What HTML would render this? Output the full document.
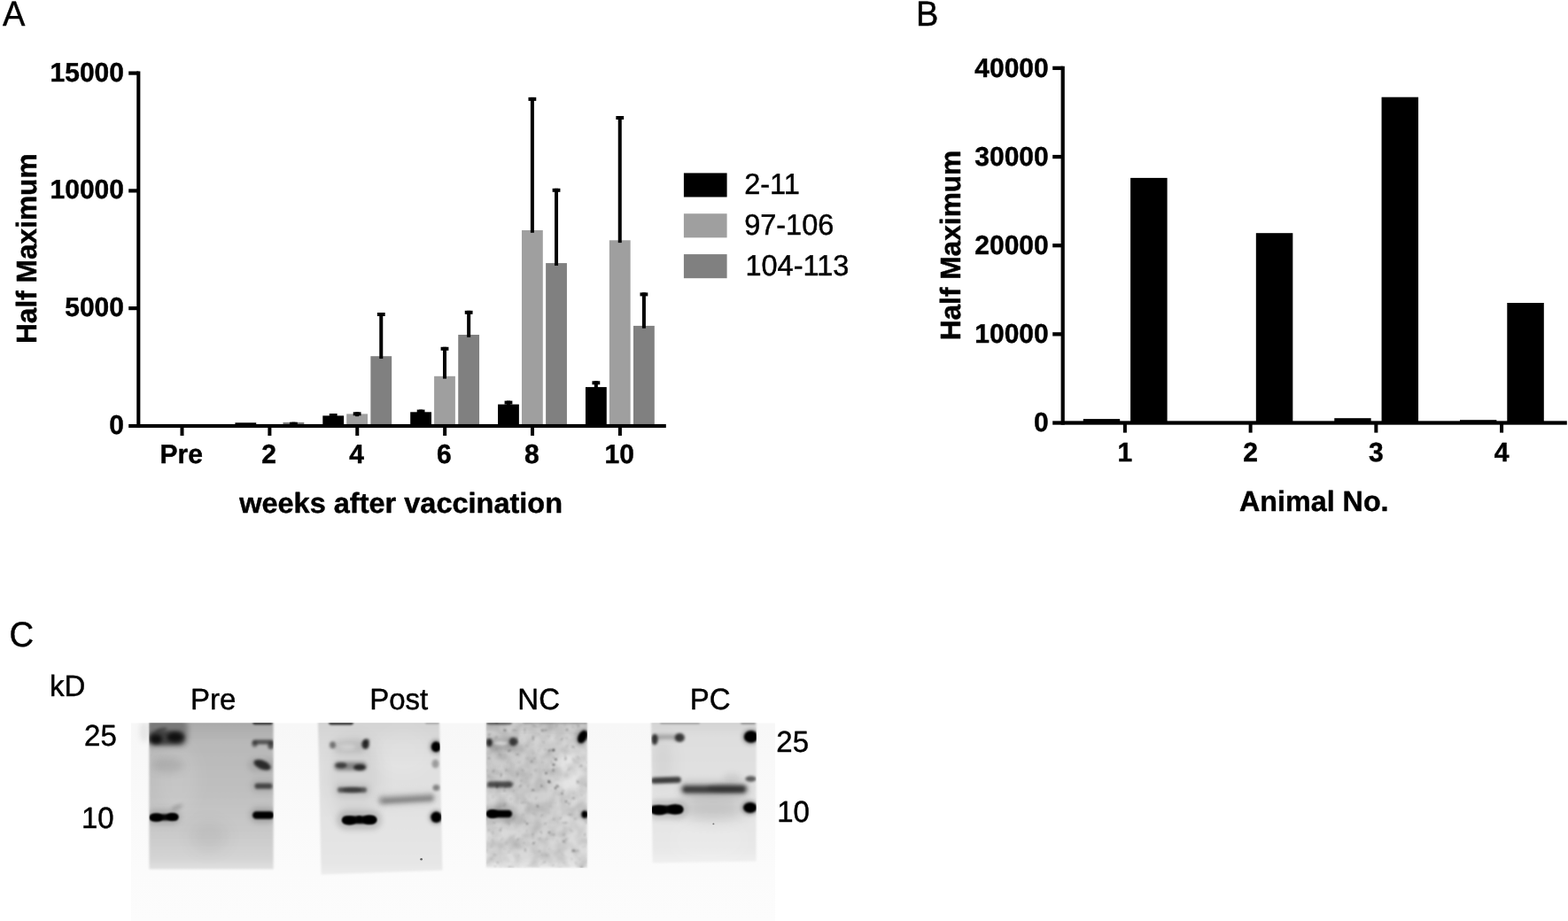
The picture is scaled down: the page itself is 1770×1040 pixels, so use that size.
<!DOCTYPE html>
<html lang="en">
<head>
<meta charset="utf-8">
<title>Figure</title>
<style>
html,body{margin:0;padding:0;background:#fff;}
body{width:1770px;height:1040px;overflow:hidden;}
svg{display:block;}
text{font-family:"Liberation Sans",sans-serif;fill:#000;text-rendering:geometricPrecision;stroke:#000;stroke-width:0.45px;stroke-linejoin:round;}
</style>
</head>
<body>
<svg width="1770" height="1040" viewBox="0 0 1770 1040">
<rect x="0" y="0" width="1770" height="1040" fill="#ffffff"/>
<g id="panelA">
<text transform="translate(2.90,28.90) scale(0.9750,1.0200)" font-size="39">A</text>
<rect x="265.43" y="477.30" width="23.80" height="3.70" fill="#000"/>
<rect x="319.48" y="476.90" width="23.80" height="4.10" fill="#808080"/>
<rect x="364.31" y="469.40" width="23.80" height="11.60" fill="#000"/>
<rect x="391.21" y="467.40" width="23.80" height="13.60" fill="#9f9f9f"/>
<rect x="418.36" y="402.20" width="23.80" height="78.80" fill="#808080"/>
<rect x="463.19" y="465.30" width="23.80" height="15.70" fill="#000"/>
<rect x="490.09" y="424.80" width="23.80" height="56.20" fill="#9f9f9f"/>
<rect x="517.24" y="378.00" width="23.80" height="103.00" fill="#808080"/>
<rect x="562.07" y="456.60" width="23.80" height="24.40" fill="#000"/>
<rect x="588.97" y="260.00" width="23.80" height="221.00" fill="#9f9f9f"/>
<rect x="616.12" y="297.10" width="23.80" height="183.90" fill="#808080"/>
<rect x="660.95" y="437.10" width="23.80" height="43.90" fill="#000"/>
<rect x="687.85" y="271.30" width="23.80" height="209.70" fill="#9f9f9f"/>
<rect x="715.00" y="367.90" width="23.80" height="113.10" fill="#808080"/>
<rect x="329.38" y="476.70" width="4.00" height="3.00" fill="#000"/>
<rect x="326.98" y="476.70" width="8.80" height="4.00" fill="#000"/>
<rect x="374.21" y="467.00" width="4.00" height="5.20" fill="#000"/>
<rect x="371.81" y="467.00" width="8.80" height="4.00" fill="#000"/>
<rect x="401.11" y="465.30" width="4.00" height="4.90" fill="#000"/>
<rect x="398.71" y="465.30" width="8.80" height="4.00" fill="#000"/>
<rect x="428.26" y="353.00" width="4.00" height="52.00" fill="#000"/>
<rect x="425.86" y="353.00" width="8.80" height="4.00" fill="#000"/>
<rect x="473.09" y="462.60" width="4.00" height="5.50" fill="#000"/>
<rect x="470.69" y="462.60" width="8.80" height="4.00" fill="#000"/>
<rect x="499.99" y="391.80" width="4.00" height="35.80" fill="#000"/>
<rect x="497.59" y="391.80" width="8.80" height="4.00" fill="#000"/>
<rect x="527.14" y="350.80" width="4.00" height="30.00" fill="#000"/>
<rect x="524.74" y="350.80" width="8.80" height="4.00" fill="#000"/>
<rect x="571.97" y="452.60" width="4.00" height="6.80" fill="#000"/>
<rect x="569.57" y="452.60" width="8.80" height="4.00" fill="#000"/>
<rect x="598.87" y="109.90" width="4.00" height="152.90" fill="#000"/>
<rect x="596.47" y="109.90" width="8.80" height="4.00" fill="#000"/>
<rect x="626.02" y="212.80" width="4.00" height="87.10" fill="#000"/>
<rect x="623.62" y="212.80" width="8.80" height="4.00" fill="#000"/>
<rect x="670.85" y="430.30" width="4.00" height="9.60" fill="#000"/>
<rect x="668.45" y="430.30" width="8.80" height="4.00" fill="#000"/>
<rect x="697.75" y="131.00" width="4.00" height="143.10" fill="#000"/>
<rect x="695.35" y="131.00" width="8.80" height="4.00" fill="#000"/>
<rect x="724.90" y="330.40" width="4.00" height="40.30" fill="#000"/>
<rect x="722.50" y="330.40" width="8.80" height="4.00" fill="#000"/>
<rect x="154.25" y="80.50" width="4.10" height="402.55" fill="#000"/>
<rect x="145.20" y="478.95" width="606.60" height="4.10" fill="#000"/>
<rect x="145.20" y="80.50" width="11.10" height="4.20" fill="#000"/>
<rect x="145.20" y="213.30" width="11.10" height="4.20" fill="#000"/>
<rect x="145.20" y="346.00" width="11.10" height="4.20" fill="#000"/>
<rect x="203.50" y="481.00" width="4.00" height="11.00" fill="#000"/>
<rect x="302.38" y="481.00" width="4.00" height="11.00" fill="#000"/>
<rect x="401.26" y="481.00" width="4.00" height="11.00" fill="#000"/>
<rect x="500.14" y="481.00" width="4.00" height="11.00" fill="#000"/>
<rect x="599.02" y="481.00" width="4.00" height="11.00" fill="#000"/>
<rect x="697.90" y="481.00" width="4.00" height="11.00" fill="#000"/>
<text transform="translate(140.00,91.50) scale(1.0000,1.0100)" font-size="30" font-weight="bold" text-anchor="end">15000</text>
<text transform="translate(140.00,224.30) scale(1.0000,1.0100)" font-size="30" font-weight="bold" text-anchor="end">10000</text>
<text transform="translate(140.00,357.00) scale(1.0000,1.0100)" font-size="30" font-weight="bold" text-anchor="end">5000</text>
<text transform="translate(140.00,489.90) scale(1.0000,1.0100)" font-size="30" font-weight="bold" text-anchor="end">0</text>
<text transform="translate(204.80,523.30) scale(1.0000,1.0100)" font-size="30" font-weight="bold" text-anchor="middle">Pre</text>
<text transform="translate(303.68,523.30) scale(1.0000,1.0100)" font-size="30" font-weight="bold" text-anchor="middle">2</text>
<text transform="translate(402.56,523.30) scale(1.0000,1.0100)" font-size="30" font-weight="bold" text-anchor="middle">4</text>
<text transform="translate(501.44,523.30) scale(1.0000,1.0100)" font-size="30" font-weight="bold" text-anchor="middle">6</text>
<text transform="translate(600.32,523.30) scale(1.0000,1.0100)" font-size="30" font-weight="bold" text-anchor="middle">8</text>
<text transform="translate(699.20,523.30) scale(1.0000,1.0100)" font-size="30" font-weight="bold" text-anchor="middle">10</text>
<text transform="translate(452.60,579.40) scale(1.0000,0.9850)" font-size="32.5" font-weight="bold" text-anchor="middle">weeks after vaccination</text>
<text transform="translate(41.00,280.75) rotate(-90) scale(0.9740,0.9850)" font-size="32.5" font-weight="bold" text-anchor="middle">Half Maximum</text>
<rect x="771.90" y="195.40" width="48.70" height="27.10" fill="#000"/>
<text transform="translate(840.15,219.10) scale(1.0000,1.0200)" font-size="32.5">2-11</text>
<rect x="771.90" y="241.25" width="48.70" height="27.10" fill="#9f9f9f"/>
<text transform="translate(840.15,264.95) scale(1.0000,1.0200)" font-size="32.5">97-106</text>
<rect x="771.90" y="287.10" width="48.70" height="27.10" fill="#808080"/>
<text transform="translate(841.45,310.80) scale(1.0000,1.0200)" font-size="32.5">104-113</text>
</g>
<g id="panelB">
<text transform="translate(1034.10,28.90) scale(0.9750,1.0200)" font-size="39">B</text>
<rect x="1222.80" y="473.10" width="41.40" height="4.40" fill="#000"/>
<rect x="1276.10" y="200.90" width="41.50" height="276.60" fill="#000"/>
<rect x="1417.83" y="263.20" width="41.50" height="214.30" fill="#000"/>
<rect x="1506.26" y="472.20" width="41.40" height="5.30" fill="#000"/>
<rect x="1559.56" y="109.70" width="41.50" height="367.80" fill="#000"/>
<rect x="1647.99" y="474.20" width="41.40" height="3.30" fill="#000"/>
<rect x="1701.29" y="342.00" width="41.50" height="135.50" fill="#000"/>
<rect x="1197.60" y="74.75" width="4.20" height="404.90" fill="#000"/>
<rect x="1188.20" y="475.35" width="580.60" height="4.30" fill="#000"/>
<rect x="1188.20" y="74.75" width="11.50" height="4.30" fill="#000"/>
<rect x="1188.20" y="174.90" width="11.50" height="4.30" fill="#000"/>
<rect x="1188.20" y="275.05" width="11.50" height="4.30" fill="#000"/>
<rect x="1188.20" y="375.20" width="11.50" height="4.30" fill="#000"/>
<rect x="1267.90" y="477.50" width="4.00" height="11.10" fill="#000"/>
<rect x="1409.63" y="477.50" width="4.00" height="11.10" fill="#000"/>
<rect x="1551.36" y="477.50" width="4.00" height="11.10" fill="#000"/>
<rect x="1693.09" y="477.50" width="4.00" height="11.10" fill="#000"/>
<text transform="translate(1183.75,86.60) scale(1.0000,1.0100)" font-size="30" font-weight="bold" text-anchor="end">40000</text>
<text transform="translate(1183.75,186.75) scale(1.0000,1.0100)" font-size="30" font-weight="bold" text-anchor="end">30000</text>
<text transform="translate(1183.75,286.90) scale(1.0000,1.0100)" font-size="30" font-weight="bold" text-anchor="end">20000</text>
<text transform="translate(1183.75,387.05) scale(1.0000,1.0100)" font-size="30" font-weight="bold" text-anchor="end">10000</text>
<text transform="translate(1183.75,487.20) scale(1.0000,1.0100)" font-size="30" font-weight="bold" text-anchor="end">0</text>
<text transform="translate(1269.80,520.60) scale(1.0000,1.0150)" font-size="30" font-weight="bold" text-anchor="middle">1</text>
<text transform="translate(1411.53,520.60) scale(1.0000,1.0150)" font-size="30" font-weight="bold" text-anchor="middle">2</text>
<text transform="translate(1553.26,520.60) scale(1.0000,1.0150)" font-size="30" font-weight="bold" text-anchor="middle">3</text>
<text transform="translate(1694.99,520.60) scale(1.0000,1.0150)" font-size="30" font-weight="bold" text-anchor="middle">4</text>
<text transform="translate(1483.30,577.20) scale(0.9930,0.9900)" font-size="32.5" font-weight="bold" text-anchor="middle">Animal No.</text>
<text transform="translate(1084.15,277.05) rotate(-90) scale(0.9740,0.9850)" font-size="32.5" font-weight="bold" text-anchor="middle">Half Maximum</text>
</g>
<g id="panelC">
<text transform="translate(10.40,729.75) scale(0.9800,1.0200)" font-size="39">C</text>
<text transform="translate(56.00,786.05) scale(1.0000,1.0200)" font-size="33">kD</text>
<text transform="translate(95.10,842.35) scale(1.0000,1.0200)" font-size="33">25</text>
<text transform="translate(92.00,935.25) scale(1.0000,1.0200)" font-size="33">10</text>
<text transform="translate(215.05,801.00) scale(1.0000,1.0200)" font-size="33">Pre</text>
<text transform="translate(417.15,801.00) scale(1.0000,1.0200)" font-size="33">Post</text>
<text transform="translate(584.35,801.00) scale(1.0000,1.0200)" font-size="33">NC</text>
<text transform="translate(778.75,801.00) scale(1.0000,1.0200)" font-size="33">PC</text>
<text transform="translate(876.30,848.65) scale(1.0000,1.0200)" font-size="33">25</text>
<text transform="translate(877.20,927.75) scale(1.0000,1.0200)" font-size="33">10</text>
<defs>
<filter id="bl05" x="-60%" y="-60%" width="220%" height="220%"><feGaussianBlur stdDeviation="0.5"/></filter>
<filter id="bl08" x="-60%" y="-60%" width="220%" height="220%"><feGaussianBlur stdDeviation="0.8"/></filter>
<filter id="bl1" x="-60%" y="-60%" width="220%" height="220%"><feGaussianBlur stdDeviation="1.0"/></filter>
<filter id="bl12" x="-60%" y="-60%" width="220%" height="220%"><feGaussianBlur stdDeviation="1.25"/></filter>
<filter id="bl15" x="-60%" y="-60%" width="220%" height="220%"><feGaussianBlur stdDeviation="1.5"/></filter>
<filter id="bl2" x="-60%" y="-60%" width="220%" height="220%"><feGaussianBlur stdDeviation="2.0"/></filter>
<filter id="bl3" x="-60%" y="-60%" width="220%" height="220%"><feGaussianBlur stdDeviation="3.0"/></filter>
<filter id="bl5" x="-60%" y="-60%" width="220%" height="220%"><feGaussianBlur stdDeviation="5.0"/></filter>
<filter id="bl8" x="-60%" y="-60%" width="220%" height="220%"><feGaussianBlur stdDeviation="8.0"/></filter>
<filter id="bl12x" x="-60%" y="-60%" width="220%" height="220%"><feGaussianBlur stdDeviation="12.0"/></filter>
<clipPath id="blotclip"><rect x="147.7" y="816.3" width="727.3" height="223.70000000000005"/></clipPath>
<linearGradient id="gPre" x1="0" y1="0" x2="0" y2="1"><stop offset="0" stop-color="#9c9c9c"/><stop offset="0.03" stop-color="#ababab"/><stop offset="0.15" stop-color="#b8b8b8"/><stop offset="0.5" stop-color="#c0c0c0"/><stop offset="0.75" stop-color="#c9c9c9"/><stop offset="0.93" stop-color="#d4d4d4"/><stop offset="1" stop-color="#e0e0e0"/></linearGradient>
<linearGradient id="gPost" x1="0" y1="0" x2="0" y2="1"><stop offset="0" stop-color="#c4c4c4"/><stop offset="0.03" stop-color="#d4d4d4"/><stop offset="0.15" stop-color="#dadada"/><stop offset="0.3" stop-color="#e0e0e0"/><stop offset="0.6" stop-color="#e2e2e2"/><stop offset="0.93" stop-color="#e6e6e6"/><stop offset="1" stop-color="#ececec"/></linearGradient>
<linearGradient id="gNC" x1="0" y1="0" x2="0" y2="1"><stop offset="0" stop-color="#b0b0b0"/><stop offset="0.03" stop-color="#c8c8c8"/><stop offset="0.12" stop-color="#d6d6d6"/><stop offset="0.6" stop-color="#d8d8d8"/><stop offset="0.93" stop-color="#dcdcdc"/><stop offset="1" stop-color="#e6e6e6"/></linearGradient>
<linearGradient id="gPC" x1="0" y1="0" x2="0" y2="1"><stop offset="0" stop-color="#c0c0c0"/><stop offset="0.03" stop-color="#d4d4d4"/><stop offset="0.12" stop-color="#dedede"/><stop offset="0.5" stop-color="#e2e2e2"/><stop offset="0.9" stop-color="#e8e8e8"/><stop offset="1" stop-color="#efefef"/></linearGradient>
<filter id="nz" x="0" y="0" width="100%" height="100%" color-interpolation-filters="sRGB"><feTurbulence type="fractalNoise" baseFrequency="0.075" numOctaves="2" seed="11" result="t"/><feColorMatrix in="t" type="matrix" values="0 0 0 0 0  0 0 0 0 0  0 0 0 0 0  0.30 0 0 0 -0.11"/><feGaussianBlur stdDeviation="1"/></filter>
<filter id="nz2" x="0" y="0" width="100%" height="100%" color-interpolation-filters="sRGB"><feTurbulence type="fractalNoise" baseFrequency="0.22" numOctaves="1" seed="5" result="t"/><feColorMatrix in="t" type="matrix" values="0 0 0 0 0  0 0 0 0 0  0 0 0 0 0  3 0 0 0 -2.0"/><feGaussianBlur stdDeviation="0.8"/></filter>
<linearGradient id="gBg" x1="0" y1="0" x2="0" y2="1"><stop offset="0" stop-color="#f7f7f7"/><stop offset="0.5" stop-color="#fafafa"/><stop offset="1" stop-color="#fcfcfc"/></linearGradient>
<clipPath id="sc1"><polygon points="168.4,812.3 308.6,812.3 308.6,981.4 168.4,981.4"/></clipPath>
<clipPath id="sc2"><polygon points="358.8,812.3 496.0,812.3 499.4,982.8 362.6,987.6"/></clipPath>
<clipPath id="sc3"><polygon points="548.8,812.3 662.9,812.3 662.9,979.8 548.8,979.8"/></clipPath>
<clipPath id="sc4"><polygon points="735.0,812.3 853.8,812.3 853.6,972.6 736.6,974.4"/></clipPath>
</defs>
<g clip-path="url(#blotclip)">
<rect x="147.7" y="816.3" width="727.3" height="223.70000000000005" fill="url(#gBg)"/>
<ellipse cx="163.0" cy="826.0" rx="5.0" ry="12.0" fill="#000" fill-opacity="0.08" filter="url(#bl3)"/>
<polygon points="168.4,812.3 308.6,812.3 308.6,981.4 168.4,981.4" fill="url(#gPre)" filter="url(#bl1)"/>
<g clip-path="url(#sc1)">
<ellipse cx="200.0" cy="880.0" rx="22.0" ry="40.0" fill="#fff" fill-opacity="0.1" filter="url(#bl8)"/>
<ellipse cx="190.0" cy="864.0" rx="18.0" ry="9.0" fill="#000" fill-opacity="0.1" filter="url(#bl5)"/>
<ellipse cx="236.0" cy="945.0" rx="22.0" ry="18.0" fill="#000" fill-opacity="0.05" filter="url(#bl8)"/>
<rect x="164.0" y="812.0" width="48.0" height="31.0" rx="8.0" fill="#000" fill-opacity="0.3" filter="url(#bl3)"/>
<rect x="168.0" y="825.0" width="41.0" height="16.0" rx="8.0" fill="#000" fill-opacity="0.5" filter="url(#bl2)"/>
<ellipse cx="176.0" cy="834.5" rx="7.0" ry="5.2" fill="#000" fill-opacity="0.75" filter="url(#bl2)"/>
<ellipse cx="197.5" cy="832.5" rx="9.0" ry="5.4" fill="#000" fill-opacity="0.75" filter="url(#bl2)"/>
<ellipse cx="182.0" cy="824.0" rx="7.0" ry="2.2" fill="#000" fill-opacity="0.3" filter="url(#bl15)" transform="rotate(-15 182.0 824.0)"/>
<rect x="169.0" y="919.2" width="32.0" height="7.4" rx="3.7" fill="#000" fill-opacity="0.95" filter="url(#bl12)"/>
<ellipse cx="176.5" cy="923.2" rx="7.5" ry="4.6" fill="#000" fill-opacity="1" filter="url(#bl12)"/>
<ellipse cx="194.5" cy="922.2" rx="6.8" ry="4.2" fill="#000" fill-opacity="1" filter="url(#bl12)"/>
<rect x="166.0" y="914.0" width="38.0" height="17.0" rx="8.5" fill="#000" fill-opacity="0.15" filter="url(#bl3)"/>
<ellipse cx="200.0" cy="911.5" rx="7.0" ry="2.2" fill="#000" fill-opacity="0.22" filter="url(#bl2)" transform="rotate(-20 200.0 911.5)"/>
<rect x="285.0" y="813.5" width="23.0" height="4.7" rx="2.4" fill="#000" fill-opacity="0.75" filter="url(#bl1)"/>
<rect x="285.0" y="835.2" width="24.0" height="5.3" rx="2.6" fill="#000" fill-opacity="0.55" filter="url(#bl15)"/>
<ellipse cx="287.5" cy="840.5" rx="3.2" ry="3.2" fill="#000" fill-opacity="0.4" filter="url(#bl15)"/>
<ellipse cx="305.8" cy="842.0" rx="3.5" ry="4.0" fill="#000" fill-opacity="0.55" filter="url(#bl15)"/>
<ellipse cx="296.0" cy="863.8" rx="10.2" ry="5.0" fill="#000" fill-opacity="0.75" filter="url(#bl15)" transform="rotate(22 296.0 863.8)"/>
<rect x="280.0" y="856.0" width="32.0" height="16.0" rx="8.0" fill="#000" fill-opacity="0.1" filter="url(#bl3)"/>
<rect x="287.5" y="884.6" width="20.0" height="6.2" rx="3.1" fill="#000" fill-opacity="0.6" filter="url(#bl15)"/>
<rect x="283.0" y="880.0" width="29.0" height="15.0" rx="7.5" fill="#000" fill-opacity="0.1" filter="url(#bl3)"/>
<rect x="285.0" y="916.2" width="24.5" height="8.6" rx="4.3" fill="#000" fill-opacity="1" filter="url(#bl12)"/>
<rect x="282.0" y="912.0" width="30.0" height="17.0" rx="8.5" fill="#000" fill-opacity="0.18" filter="url(#bl3)"/>
</g>
<polygon points="358.8,812.3 496.0,812.3 499.4,982.8 362.6,987.6" fill="url(#gPost)" filter="url(#bl1)"/>
<g clip-path="url(#sc2)">
<ellipse cx="455.0" cy="850.0" rx="30.0" ry="25.0" fill="#fff" fill-opacity="0.1" filter="url(#bl8)"/>
<ellipse cx="400.0" cy="880.0" rx="30.0" ry="50.0" fill="#000" fill-opacity="0.05" filter="url(#bl8)"/>
<rect x="371.0" y="813.5" width="28.0" height="4.9" rx="2.4" fill="#000" fill-opacity="0.8" filter="url(#bl1)"/>
<rect x="480.0" y="814.0" width="16.0" height="3.6" rx="1.8" fill="#000" fill-opacity="0.25" filter="url(#bl1)"/>
<ellipse cx="375.5" cy="841.3" rx="3.5" ry="4.0" fill="#000" fill-opacity="0.45" filter="url(#bl15)"/>
<ellipse cx="412.5" cy="840.5" rx="4.2" ry="5.2" fill="#000" fill-opacity="0.8" filter="url(#bl15)"/>
<ellipse cx="414.0" cy="836.5" rx="3.2" ry="2.5" fill="#000" fill-opacity="0.45" filter="url(#bl15)"/>
<rect x="376.0" y="836.0" width="38.0" height="14.0" rx="7.0" fill="#000" fill-opacity="0.1" filter="url(#bl3)"/>
<ellipse cx="392.0" cy="843.5" rx="10.0" ry="3.0" fill="#fff" fill-opacity="0.32" filter="url(#bl2)"/>
<rect x="377.0" y="860.5" width="37.0" height="9.5" rx="4.8" fill="#000" fill-opacity="0.38" filter="url(#bl2)"/>
<ellipse cx="385.0" cy="864.2" rx="6.5" ry="3.3" fill="#000" fill-opacity="0.55" filter="url(#bl15)"/>
<ellipse cx="406.0" cy="866.5" rx="7.0" ry="3.6" fill="#000" fill-opacity="0.7" filter="url(#bl15)"/>
<rect x="381.0" y="889.0" width="33.0" height="6.0" rx="3.0" fill="#000" fill-opacity="0.55" filter="url(#bl15)"/>
<ellipse cx="397.5" cy="892.0" rx="11.0" ry="3.2" fill="#000" fill-opacity="0.3" filter="url(#bl15)"/>
<rect x="378.0" y="885.0" width="40.0" height="14.0" rx="7.0" fill="#000" fill-opacity="0.1" filter="url(#bl3)"/>
<rect x="386.0" y="921.5" width="39.0" height="8.8" rx="4.4" fill="#000" fill-opacity="0.95" filter="url(#bl12)"/>
<ellipse cx="394.5" cy="926.6" rx="8.0" ry="4.8" fill="#000" fill-opacity="1" filter="url(#bl12)"/>
<ellipse cx="417.0" cy="925.6" rx="8.2" ry="5.2" fill="#000" fill-opacity="1" filter="url(#bl12)"/>
<ellipse cx="405.5" cy="925.0" rx="3.5" ry="3.5" fill="#000" fill-opacity="1" filter="url(#bl1)"/>
<rect x="380.0" y="915.0" width="51.0" height="22.0" rx="11.0" fill="#000" fill-opacity="0.16" filter="url(#bl3)"/>
<rect x="427.0" y="897.5" width="64.0" height="10.0" rx="5.0" fill="#000" fill-opacity="0.24" filter="url(#bl2)" transform="rotate(-3.2 459.0 902.5)"/>
<rect x="432.0" y="900.5" width="56.0" height="5.0" rx="2.5" fill="#000" fill-opacity="0.14" filter="url(#bl15)" transform="rotate(-3.2 460.0 903.0)"/>
<rect x="424.0" y="893.0" width="70.0" height="18.0" rx="9.0" fill="#000" fill-opacity="0.05" filter="url(#bl3)" transform="rotate(-3.2 459.0 902.0)"/>
<ellipse cx="492.2" cy="843.3" rx="5.4" ry="6.0" fill="#000" fill-opacity="1" filter="url(#bl12)"/>
<ellipse cx="492.0" cy="843.3" rx="7.5" ry="8.5" fill="#000" fill-opacity="0.25" filter="url(#bl2)"/>
<ellipse cx="491.5" cy="862.5" rx="4.0" ry="5.0" fill="#000" fill-opacity="0.3" filter="url(#bl15)"/>
<ellipse cx="492.5" cy="889.4" rx="4.0" ry="3.5" fill="#000" fill-opacity="0.42" filter="url(#bl15)"/>
<ellipse cx="492.5" cy="922.8" rx="6.2" ry="6.2" fill="#000" fill-opacity="1" filter="url(#bl12)"/>
<ellipse cx="492.3" cy="922.8" rx="8.5" ry="8.5" fill="#000" fill-opacity="0.25" filter="url(#bl2)"/>
<ellipse cx="475.6" cy="970.2" rx="1.3" ry="1.3" fill="#000" fill-opacity="0.6" filter="url(#bl05)"/>
</g>
<polygon points="548.8,812.3 662.9,812.3 662.9,979.8 548.8,979.8" fill="url(#gNC)" filter="url(#bl1)"/>
<g clip-path="url(#sc3)">
<ellipse cx="643.0" cy="870.0" rx="13.0" ry="30.0" fill="#fff" fill-opacity="0.34" filter="url(#bl5)"/>
<ellipse cx="600.0" cy="900.0" rx="25.0" ry="70.0" fill="#000" fill-opacity="0.03" filter="url(#bl8)"/>
<rect x="549.0" y="813.5" width="29.0" height="4.7" rx="2.4" fill="#000" fill-opacity="0.5" filter="url(#bl1)"/>
<rect x="590.0" y="813.5" width="72.0" height="4.1" rx="2.1" fill="#000" fill-opacity="0.2" filter="url(#bl1)"/>
<rect x="548" y="812" width="116" height="170" fill="#000" filter="url(#nz)"/>
<rect x="548" y="812" width="116" height="170" fill="#000" filter="url(#nz2)"/>
<ellipse cx="624.8" cy="847.0" rx="1.6" ry="1.6" fill="#000" fill-opacity="0.6" filter="url(#bl08)"/>
<ellipse cx="627.5" cy="857.5" rx="1.5" ry="1.5" fill="#000" fill-opacity="0.45" filter="url(#bl08)"/>
<ellipse cx="625.0" cy="863.5" rx="1.6" ry="1.6" fill="#000" fill-opacity="0.45" filter="url(#bl08)"/>
<ellipse cx="616.5" cy="873.0" rx="1.5" ry="1.5" fill="#000" fill-opacity="0.4" filter="url(#bl08)"/>
<ellipse cx="619.5" cy="882.5" rx="1.4" ry="1.4" fill="#000" fill-opacity="0.4" filter="url(#bl08)"/>
<ellipse cx="627.0" cy="890.0" rx="1.4" ry="1.4" fill="#000" fill-opacity="0.4" filter="url(#bl08)"/>
<ellipse cx="634.5" cy="896.0" rx="1.3" ry="1.3" fill="#000" fill-opacity="0.35" filter="url(#bl08)"/>
<ellipse cx="639.0" cy="905.0" rx="1.3" ry="1.3" fill="#000" fill-opacity="0.35" filter="url(#bl08)"/>
<ellipse cx="612.0" cy="825.0" rx="1.2" ry="1.2" fill="#000" fill-opacity="0.3" filter="url(#bl08)"/>
<ellipse cx="640.0" cy="824.0" rx="1.2" ry="1.2" fill="#000" fill-opacity="0.3" filter="url(#bl08)"/>
<ellipse cx="595.0" cy="930.0" rx="1.5" ry="1.5" fill="#000" fill-opacity="0.3" filter="url(#bl08)"/>
<ellipse cx="620.0" cy="940.0" rx="1.3" ry="1.3" fill="#000" fill-opacity="0.35" filter="url(#bl08)"/>
<ellipse cx="636.0" cy="950.0" rx="1.2" ry="1.2" fill="#000" fill-opacity="0.3" filter="url(#bl08)"/>
<ellipse cx="600.0" cy="860.0" rx="1.2" ry="1.2" fill="#000" fill-opacity="0.25" filter="url(#bl08)"/>
<ellipse cx="552.3" cy="838.5" rx="3.4" ry="4.8" fill="#000" fill-opacity="0.75" filter="url(#bl15)"/>
<ellipse cx="579.5" cy="837.5" rx="4.8" ry="4.8" fill="#000" fill-opacity="0.66" filter="url(#bl15)"/>
<rect x="549.0" y="832.0" width="35.0" height="14.0" rx="7.0" fill="#000" fill-opacity="0.16" filter="url(#bl3)"/>
<ellipse cx="566.0" cy="850.0" rx="20.0" ry="22.0" fill="#000" fill-opacity="0.06" filter="url(#bl8)"/>
<ellipse cx="565.2" cy="839.2" rx="7.5" ry="2.2" fill="#fff" fill-opacity="0.5" filter="url(#bl15)"/>
<rect x="550.0" y="882.6" width="28.5" height="6.6" rx="3.3" fill="#000" fill-opacity="0.62" filter="url(#bl15)"/>
<rect x="547.0" y="879.0" width="35.0" height="14.0" rx="7.0" fill="#000" fill-opacity="0.08" filter="url(#bl3)"/>
<rect x="549.0" y="914.8" width="29.2" height="8.4" rx="4.2" fill="#000" fill-opacity="1" filter="url(#bl12)"/>
<ellipse cx="556.0" cy="919.0" rx="6.5" ry="4.6" fill="#000" fill-opacity="1" filter="url(#bl12)"/>
<rect x="545.0" y="909.0" width="39.0" height="20.0" rx="10.0" fill="#000" fill-opacity="0.16" filter="url(#bl3)"/>
<ellipse cx="657.6" cy="832.0" rx="4.9" ry="7.8" fill="#000" fill-opacity="1" filter="url(#bl12)" transform="rotate(28 657.6 832.0)"/>
<ellipse cx="657.4" cy="832.0" rx="7.0" ry="10.0" fill="#000" fill-opacity="0.28" filter="url(#bl2)" transform="rotate(28 657.4 832.0)"/>
<ellipse cx="660.0" cy="919.7" rx="3.6" ry="4.1" fill="#000" fill-opacity="1" filter="url(#bl12)"/>
<ellipse cx="660.0" cy="919.7" rx="5.5" ry="6.0" fill="#000" fill-opacity="0.25" filter="url(#bl2)"/>
</g>
<polygon points="735.0,812.3 853.8,812.3 853.6,972.6 736.6,974.4" fill="url(#gPC)" filter="url(#bl1)"/>
<g clip-path="url(#sc4)">
<ellipse cx="800.0" cy="950.0" rx="40.0" ry="25.0" fill="#fff" fill-opacity="0.1" filter="url(#bl8)"/>
<ellipse cx="748.0" cy="860.0" rx="12.0" ry="30.0" fill="#000" fill-opacity="0.05" filter="url(#bl8)"/>
<rect x="745.0" y="814.0" width="45.0" height="3.8" rx="1.9" fill="#000" fill-opacity="0.25" filter="url(#bl1)"/>
<rect x="836.0" y="814.0" width="17.0" height="4.0" rx="2.0" fill="#000" fill-opacity="0.3" filter="url(#bl1)"/>
<ellipse cx="739.0" cy="835.0" rx="3.6" ry="6.2" fill="#000" fill-opacity="0.75" filter="url(#bl15)"/>
<ellipse cx="767.3" cy="833.0" rx="5.6" ry="5.0" fill="#000" fill-opacity="0.7" filter="url(#bl15)"/>
<rect x="738.0" y="829.5" width="32.0" height="6.5" rx="3.2" fill="#000" fill-opacity="0.25" filter="url(#bl2)"/>
<ellipse cx="752.0" cy="836.5" rx="9.0" ry="2.5" fill="#fff" fill-opacity="0.2" filter="url(#bl15)"/>
<rect x="735.0" y="877.4" width="33.8" height="7.2" rx="3.6" fill="#000" fill-opacity="0.72" filter="url(#bl15)" transform="rotate(-2 751.9 881.0)"/>
<rect x="734.0" y="909.6" width="37.3" height="9.2" rx="4.6" fill="#000" fill-opacity="0.95" filter="url(#bl12)"/>
<ellipse cx="744.0" cy="914.9" rx="9.2" ry="5.4" fill="#000" fill-opacity="1" filter="url(#bl12)"/>
<ellipse cx="762.0" cy="913.8" rx="8.9" ry="5.6" fill="#000" fill-opacity="1" filter="url(#bl12)"/>
<rect x="731.0" y="903.0" width="45.0" height="22.0" rx="11.0" fill="#000" fill-opacity="0.15" filter="url(#bl3)"/>
<rect x="769.0" y="886.3" width="74.5" height="10.0" rx="5.0" fill="#000" fill-opacity="0.52" filter="url(#bl2)"/>
<rect x="772.0" y="888.6" width="68.0" height="6.0" rx="3.0" fill="#000" fill-opacity="0.32" filter="url(#bl15)"/>
<ellipse cx="820.0" cy="889.5" rx="22.0" ry="4.5" fill="#000" fill-opacity="0.2" filter="url(#bl2)"/>
<ellipse cx="826.0" cy="878.0" rx="10.0" ry="5.0" fill="#000" fill-opacity="0.07" filter="url(#bl3)"/>
<rect x="765.0" y="880.0" width="83.0" height="22.0" rx="11.0" fill="#000" fill-opacity="0.1" filter="url(#bl3)"/>
<ellipse cx="805.0" cy="912.0" rx="38.0" ry="14.0" fill="#000" fill-opacity="0.14" filter="url(#bl8)"/>
<ellipse cx="847.8" cy="831.9" rx="8.0" ry="6.9" fill="#000" fill-opacity="1" filter="url(#bl12)"/>
<ellipse cx="847.6" cy="831.9" rx="10.2" ry="9.0" fill="#000" fill-opacity="0.28" filter="url(#bl2)"/>
<ellipse cx="847.5" cy="879.5" rx="6.2" ry="3.3" fill="#000" fill-opacity="0.6" filter="url(#bl15)"/>
<ellipse cx="846.8" cy="912.0" rx="7.8" ry="6.1" fill="#000" fill-opacity="1" filter="url(#bl12)"/>
<ellipse cx="846.6" cy="912.0" rx="10.0" ry="8.4" fill="#000" fill-opacity="0.28" filter="url(#bl2)"/>
<ellipse cx="805.4" cy="930.4" rx="1.0" ry="0.8" fill="#000" fill-opacity="0.5" filter="url(#bl05)"/>
</g>
</g>
</g>
</svg>
</body>
</html>
